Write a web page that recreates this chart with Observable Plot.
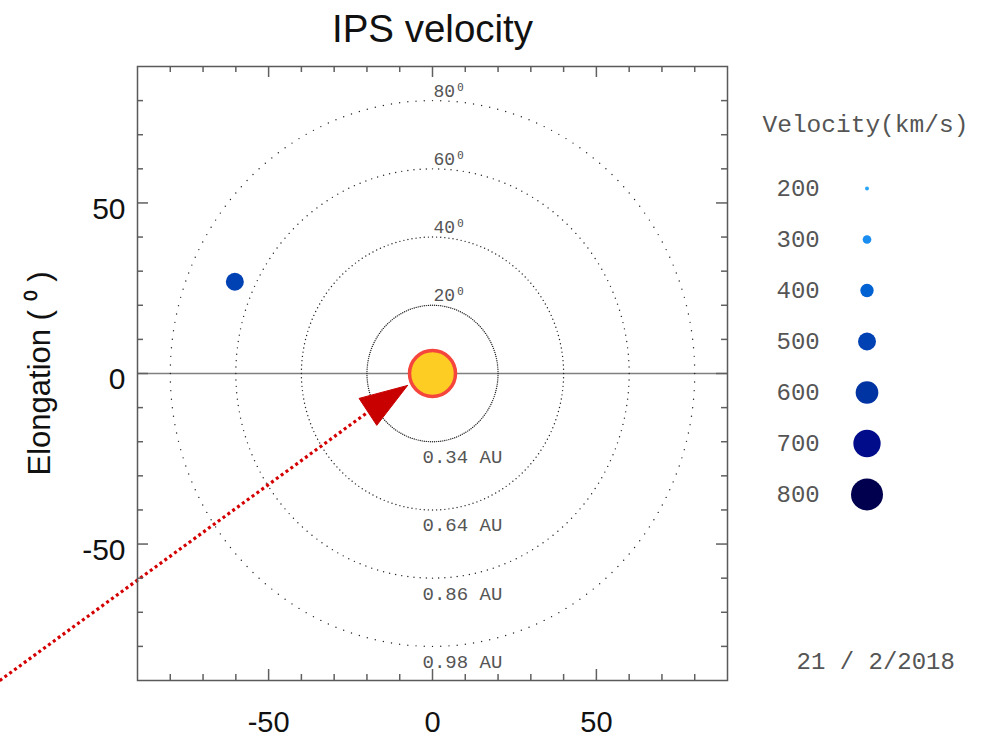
<!DOCTYPE html>
<html>
<head>
<meta charset="utf-8">
<script src="https://cdn.jsdelivr.net/npm/d3@7"></script>
<script src="https://cdn.jsdelivr.net/npm/@observablehq/plot@0.6"></script>
<style>
  html, body { margin: 0; padding: 0; background: #fff; }
  #wrap { position: relative; width: 987px; height: 738px; overflow: hidden; }
  #main { position: absolute; left: 0; top: 0; }
  #legend { position: absolute; left: 740px; top: 0; }
</style>
</head>
<body>
<div id="wrap"><div id="main"></div><div id="legend"></div></div>
<script>
// ---- data ----
const ipsX = [-60.3];
const ipsY = [26.9];
const ipsVelocity = [500];

const ringElongations = [20, 40, 60, 80];
const ringDistancesAU = ["0.34", "0.64", "0.86", "0.98"];

const legendVelocities = [200, 300, 400, 500, 600, 700, 800];
const legendColors = ["#2aa6f6", "#1a8ef0", "#0062d2", "#0042b4", "#0034a2", "#000c8a", "#00004e"];

const axisTickValues = [-50, 0, 50];
const minorTickValues = [-80, -70, -60, -40, -30, -20, -10, 10, 20, 30, 40, 60, 70, 80];

const sunX = [0];
const sunY = [0];

const arrowTail = [-135, -92.1];
const arrowBase = [-19.7, -11.3];
const arrowHeadX = [-7.6, -22.4, -17.0, -7.6];
const arrowHeadY = [-3.5, -7.3, -15.2, -3.5];

const titleText = "IPS velocity";
const yLabelText = "Elongation ( \u2070 )";
const legendTitle = "Velocity(km/s)";
const dateLabel = "21 / 2/2018";

// ---- derived tables ----
const ips = ipsX.map((x, i) => ({x, y: ipsY[i], v: ipsVelocity[i]}));
const ringPoints = ringElongations.flatMap(r =>
  d3.range(0, 360, 1.8).map(a => ({x: r * Math.cos(a * Math.PI / 180), y: r * Math.sin(a * Math.PI / 180)})));
const rings = ringElongations.map((r, i) => ({r, au: ringDistancesAU[i]}));
const arrowLink = [{x1: arrowTail[0], y1: arrowTail[1], x2: arrowBase[0], y2: arrowBase[1]}];
const arrowHead = arrowHeadX.map((x, i) => ({x, y: arrowHeadY[i]}));
const sun = sunX.map((x, i) => ({x, y: sunY[i]}));

const W = 760, H = 738;
const mL = 137, mR = 33, mT = 66, mB = 58;
const pw = W - mL - mR, ph = H - mT - mB;
const sans = "'Liberation Sans', Arial, Helvetica, sans-serif";
const mono = "'Liberation Mono', 'Courier New', monospace";
const monoFill = "#555555";
const tickStroke = "#606060";

const rScale = {type: "linear", domain: [200, 800], range: [2, 16]};
const colorScale = {type: "linear", domain: legendVelocities, range: legendColors};

const main = Plot.plot({
  width: W, height: H,
  marginLeft: mL, marginRight: mR, marginTop: mT, marginBottom: mB,
  style: {fontFamily: sans, background: "transparent"},
  x: {domain: [-90, 90], label: null},
  y: {domain: [-90, 90], label: null},
  r: rScale,
  color: colorScale,
  marks: [
    Plot.ruleY([0], {stroke: "#808080", strokeWidth: 1.5}),
    Plot.dot(ringPoints, {x: "x", y: "y", r: 0.7, fill: "#222", stroke: null}),
    Plot.text(rings, {x: 0, y: "r", text: d => `${d.r}\u2070`, textAnchor: "start", lineAnchor: "bottom",
      dx: 1, dy: -4, fontFamily: mono, fontSize: 18, fill: monoFill}),
    Plot.text(rings, {x: 0, y: d => -d.r, text: d => `${d.au} AU`, textAnchor: "start", lineAnchor: "top",
      dx: -10, dy: 8, fontFamily: mono, fontSize: 19, fill: monoFill}),
    Plot.link(arrowLink, {x1: "x1", y1: "y1", x2: "x2", y2: "y2", stroke: "#d40000", strokeWidth: 3.2,
      strokeDasharray: "3 3", strokeLinecap: "butt"}),
    Plot.line(arrowHead, {x: "x", y: "y", fill: "#c80000", stroke: "#c80000", strokeWidth: 1, strokeLinejoin: "miter"}),
    Plot.dot(sun, {x: "x", y: "y", r: 23, fill: "#fecd24", stroke: "#f5453c", strokeWidth: 3.5}),
    Plot.dot(ips, {x: "x", y: "y", r: "v", fill: "v", stroke: null}),
    // inward ticks
    Plot.ruleX(minorTickValues, {x: d => d, insetTop: ph - 6, stroke: tickStroke, strokeWidth: 1.5}),
    Plot.ruleX(minorTickValues, {x: d => d, insetBottom: ph - 6, stroke: tickStroke, strokeWidth: 1.5}),
    Plot.ruleX(axisTickValues, {x: d => d, insetTop: ph - 11, stroke: tickStroke, strokeWidth: 1.5}),
    Plot.ruleX(axisTickValues, {x: d => d, insetBottom: ph - 11, stroke: tickStroke, strokeWidth: 1.5}),
    Plot.ruleY(minorTickValues, {y: d => d, insetRight: pw - 6, stroke: tickStroke, strokeWidth: 1.5}),
    Plot.ruleY(minorTickValues, {y: d => d, insetLeft: pw - 6, stroke: tickStroke, strokeWidth: 1.5}),
    Plot.ruleY(axisTickValues, {y: d => d, insetRight: pw - 11, stroke: tickStroke, strokeWidth: 1.5}),
    Plot.ruleY(axisTickValues, {y: d => d, insetLeft: pw - 11, stroke: tickStroke, strokeWidth: 1.5}),
    Plot.frame({stroke: "#5a5a5a", strokeWidth: 1.5}),
    Plot.axisX(axisTickValues, {anchor: "bottom", tickSize: 0, tickPadding: 31, fontSize: 29,
      tickFormat: d => String(d), label: null, fill: "#111"}),
    Plot.axisY(axisTickValues, {anchor: "left", tickSize: 0, tickPadding: 12, fontSize: 30, dy: 6,
      tickFormat: d => String(d), label: null, fill: "#111"}),
    Plot.text([titleText], {frameAnchor: "top", text: d => d, dy: -25, lineAnchor: "bottom",
      textAnchor: "middle", fontSize: 38.5, fill: "#111"}),
    Plot.text([yLabelText], {frameAnchor: "left", text: d => d, dx: -97, rotate: -90,
      textAnchor: "middle", lineAnchor: "middle", fontSize: 31, fill: "#111"})
  ]
});
document.getElementById("main").appendChild(main);

const legend = Plot.plot({
  width: 247, height: 738, margin: 0,
  style: {fontFamily: mono, background: "transparent"},
  y: {type: "point", domain: legendVelocities, range: [187, 495], padding: 0, axis: null},
  r: rScale,
  color: colorScale,
  marks: [
    Plot.text([legendTitle], {frameAnchor: "top-left", text: d => d, dx: 22, dy: 131.5, lineAnchor: "bottom",
      textAnchor: "start", fontSize: 24.5, fontFamily: mono, fill: monoFill}),
    Plot.text(legendVelocities, {y: d => d, text: d => String(d), frameAnchor: "left", dx: 36,
      textAnchor: "start", fontSize: 24, fontFamily: mono, fill: monoFill}),
    Plot.dot(legendVelocities, {y: d => d, r: d => d, fill: d => d, frameAnchor: "left", dx: 126.5, stroke: null}),
    Plot.text([dateLabel], {frameAnchor: "top-left", text: d => d, dx: 56, dy: 651,
      textAnchor: "start", fontSize: 24, fontFamily: mono, fill: monoFill})
  ]
});
document.getElementById("legend").appendChild(legend);
</script>
</body>
</html>
